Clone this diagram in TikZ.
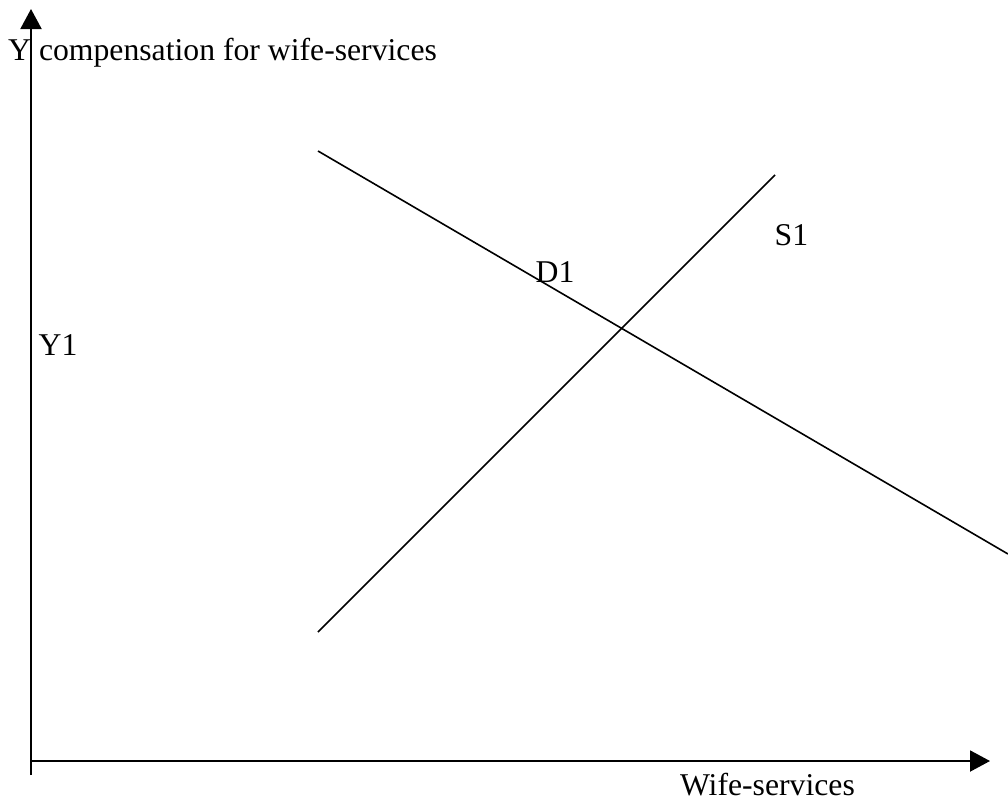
\documentclass[tikz,border=0pt]{standalone}
\usepackage{fontspec}
\setmainfont{Liberation Serif}
\usetikzlibrary{arrows.meta}
\begin{document}
\begin{tikzpicture}[x=1pt,y=-1pt,
  axis/.style={line width=2pt,-{Triangle[length=20pt,width=21pt]}},
  curve/.style={line width=1.6pt},
  lbl/.style={inner sep=0pt,font=\fontsize{31.7}{38}\selectfont}]
\useasboundingbox (0,0) rectangle (1008,807);
% axes
\coordinate (o) at (31,775);
\coordinate (ytop) at (31,9);
\coordinate (xo) at (30,761);
\coordinate (xend) at (990,761);
\draw[axis] (o) -- (ytop);
\draw[axis] (xo) -- (xend);
% demand and supply
\coordinate (d0) at (318,151);
\coordinate (d1) at (1008,554);
\coordinate (s0) at (318,632);
\coordinate (s1) at (775,175);
\draw[curve] (d0) -- (d1);
\draw[curve] (s0) -- (s1);
% labels
\node[lbl,anchor=base west] (ylab) at (8,60) {Y compensation for wife-services};
\node[lbl,anchor=base west] (y1) at (38.5,355) {Y1};
\node[lbl,anchor=base west] (dlab) at (535.5,282) {D1};
\node[lbl,anchor=base west] (slab) at (774.5,245) {S1};
\node[lbl,anchor=base east] (xlab) at (855,795) {Wife-services};
\end{tikzpicture}
\end{document}
